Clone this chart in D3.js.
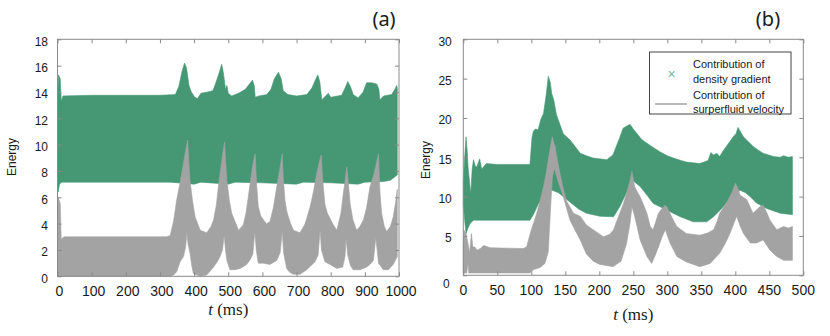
<!DOCTYPE html>
<html><head><meta charset="utf-8">
<script src="https://cdn.jsdelivr.net/npm/d3@7"></script>
<style>body{margin:0;background:#fff}svg{display:block}</style>
</head><body>
<svg id="c" width="830" height="336"></svg>
<script>
// ---------- DATA (envelopes of the dense oscillating signals, [t (ms), energy]) ----------
const aTicksX = [0,100,200,300,400,500,600,700,800,900,1000];
const aTicksY = [0,2,4,6,8,10,12,14,16,18];
const bTicksX = [0,50,100,150,200,250,300,350,400,450,500];
const bTicksY = [0,5,10,15,20,25,30];

const aGreenTop = [[0,13.5],[3,15.3],[8,15.0],[11,13.3],[16,13.7],[100,13.75],[200,13.75],[300,13.75],[345,13.8],[355,14.4],[365,15.6],[372,16.2],[378,15.8],[385,14.5],[392,14.0],[402,13.6],[410,13.5],[420,13.9],[440,14.0],[455,14.1],[465,14.8],[475,15.6],[481,16.1],[486,15.4],[492,14.2],[496,14.5],[500,13.9],[510,13.7],[530,13.9],[550,14.2],[562,14.6],[571,14.9],[576,14.5],[579,13.6],[590,13.7],[613,13.8],[625,14.2],[635,15.0],[647,15.5],[655,15.0],[661,14.1],[675,13.8],[700,13.7],[730,13.8],[745,14.3],[755,14.9],[762,15.3],[768,14.8],[774,13.4],[785,13.7],[793,13.9],[800,13.6],[832,13.75],[842,14.3],[850,14.8],[858,14.4],[866,13.8],[880,13.55],[895,14.0],[905,14.7],[920,14.7],[935,14.6],[941,14.2],[944,13.4],[955,13.7],[978,13.8],[988,14.2],[993,14.5],[995,14.3]];
const aGreenBot = [[0,7.5],[2,6.4],[6,7.0],[12,7.15],[330,7.15],[400,7.0],[420,7.15],[500,7.0],[520,7.15],[600,7.1],[700,7.0],[720,7.15],[800,7.1],[880,7.0],[900,7.15],[955,7.2],[975,7.3],[995,7.7]];
const aGrayTop = [[0,5.5],[2,6.0],[8,5.5],[11,2.7],[14,2.9],[20,3.0],[320,3.0],[330,3.1],[340,4.2],[349,5.8],[358,7.0],[367,8.3],[375,9.5],[381,10.35],[385,8.5],[388,7.3],[395,5.8],[403,4.5],[418,3.5],[437,3.3],[450,3.8],[457,4.3],[465,5.4],[471,6.8],[481,8.8],[489,10.2],[493,8.5],[496,7.3],[503,5.8],[510,4.8],[530,3.5],[544,3.9],[552,4.8],[559,6.1],[567,7.6],[574,8.8],[579,9.3],[583,7.0],[588,5.3],[595,4.6],[603,4.3],[612,4.0],[622,4.15],[632,5.2],[642,6.8],[652,8.3],[658,9.3],[661,7.5],[666,5.8],[671,5.0],[676,4.5],[683,4.0],[691,3.5],[710,3.3],[725,4.0],[740,5.3],[750,6.5],[759,7.8],[766,8.6],[772,9.2],[776,7.5],[783,5.5],[790,4.8],[798,4.4],[808,3.9],[818,3.5],[830,4.8],[837,6.3],[843,7.4],[847,8.3],[852,7.0],[857,5.5],[865,4.3],[876,3.5],[886,3.8],[896,4.3],[905,5.2],[915,6.8],[925,7.6],[933,8.5],[940,9.3],[944,6.5],[949,4.8],[957,3.8],[964,3.4],[975,3.8],[983,4.5],[990,5.6],[995,6.6]];
const aGrayBot = [[0,0],[330,0],[340,0.1],[349,0.35],[359,1.1],[369,1.5],[375,2.2],[379,3.3],[382,2.5],[388,1.75],[393,0.8],[398,0.2],[418,0.0],[437,0.1],[457,0.7],[470,1.2],[476,1.5],[483,2.0],[488,3.1],[492,2.0],[496,1.2],[505,0.5],[520,0.5],[535,0.6],[554,0.9],[565,1.3],[572,1.7],[578,3.4],[582,2.0],[588,1.0],[603,1.0],[622,0.9],[642,1.2],[652,1.8],[658,3.4],[662,1.8],[671,0.6],[680,0.3],[691,0.15],[710,0.15],[730,0.5],[754,1.1],[763,1.6],[769,3.5],[773,2.0],[783,1.1],[798,0.9],[818,0.6],[835,0.7],[842,1.5],[845,2.9],[850,1.6],[858,0.8],[866,0.5],[886,0.5],[905,0.7],[915,0.9],[925,1.2],[932,2.9],[936,2.0],[940,1.0],[954,0.5],[969,0.5],[983,0.9],[995,1.5]];

const bGreenTop = [[0,12],[2,15],[4,17.6],[6,15.5],[7,13.8],[9,12.0],[11,10.4],[13,13.5],[15,14.7],[18,13.8],[20,13.8],[24,14.8],[27,13.5],[34,14.2],[50,14.1],[98,14.1],[101,17.5],[103,18.3],[106,18.6],[110,18.5],[114,19.8],[118,20.6],[122,23],[125,25.3],[128,24.5],[130,23.1],[133,22.3],[137,20.4],[142,19.2],[147,18.0],[157,17.2],[165,16.3],[172,15.5],[181,15.2],[191,14.9],[211,14.7],[220,15.3],[225,16.4],[230,17.5],[235,18.7],[245,19.2],[250,18.6],[255,18.05],[262,17.3],[270,16.8],[280,16.2],[289,15.7],[300,15.2],[309,14.9],[320,14.6],[328,14.4],[348,14.2],[360,14.6],[364,15.6],[368,15.3],[373,15.5],[377,15.1],[382,15.8],[387,16.4],[392,17.0],[397,17.6],[401,18.0],[404,18.8],[408,18.2],[412,17.6],[420,16.9],[426,16.4],[434,15.9],[441,15.5],[456,15.1],[466,15.0],[471,15.2],[478,15.0],[484,15.1]];
const bGreenBot = [[0,9],[2,7],[4,5.3],[7,6.0],[10,6.6],[15,7.0],[98,7.0],[103,7.7],[110,9],[125,11],[140,10.5],[150,9.8],[157,9.3],[170,8.4],[181,7.9],[201,7.5],[221,7.45],[230,8.7],[240,10.5],[250,12],[260,11.3],[270,10.2],[279,9.15],[299,8.3],[319,7.45],[338,6.8],[358,6.8],[368,7.45],[378,8.3],[387,9.2],[397,10.3],[407,10.8],[415,10.5],[422,10.0],[431,9.2],[446,8.5],[466,7.9],[484,7.7]];
const bGrayTop = [[0,4],[1,5.75],[4,5.3],[7,4.0],[9,2.8],[12,5.3],[14,3.6],[17,3.6],[20,3.2],[25,3.4],[30,3.8],[40,3.5],[88,3.4],[93,3.6],[100,5.8],[104,6.8],[108,7.9],[113,9.5],[118,11.3],[122,13.0],[125,14.7],[128,16.3],[131,17.6],[133,16.8],[135,16.4],[138,14.8],[142,13.0],[147,11.0],[152,9.4],[162,7.9],[172,7.5],[181,6.4],[191,5.8],[206,4.9],[215,5.2],[221,5.8],[230,7.9],[235,9.0],[240,10.4],[245,12],[248,13.2],[252,11.3],[256,10.6],[260,10.0],[265,9.0],[270,7.9],[275,6.2],[279,5.8],[283,6.8],[287,7.9],[292,8.5],[297,8.9],[300,8.6],[304,7.9],[309,7.0],[314,6.2],[328,5.3],[348,5.1],[360,5.4],[368,5.8],[373,6.8],[377,7.9],[387,9.2],[395,10.5],[400,11.7],[404,11.0],[407,10.2],[417,9.6],[426,7.9],[431,8.3],[436,8.7],[441,8.9],[446,8.0],[451,7.0],[461,5.8],[471,6.2],[478,6.0],[484,6.2]];
const bGrayBot = [[0,0.3],[5,0.3],[7,1.5],[8,0.3],[93,0.3],[98,0.3],[103,0.7],[113,1.0],[120,1.5],[125,3.0],[128,8.0],[131,12.5],[134,13.6],[140,11.8],[147,10.0],[152,8.5],[157,7.0],[164,5.8],[172,4.5],[181,2.7],[191,1.8],[200,1.4],[220,1.1],[232,1.8],[240,4.0],[245,6.5],[248,8.7],[252,7.5],[256,6.0],[260,4.5],[270,2.4],[277,1.5],[282,2.5],[287,3.6],[292,4.8],[297,5.8],[304,4.1],[314,2.4],[328,1.7],[348,1.1],[363,1.5],[377,2.8],[385,4.0],[392,5.3],[402,7.5],[407,6.3],[412,5.3],[422,4.1],[431,4.1],[441,4.5],[451,3.2],[461,2.4],[471,1.9],[484,1.9]];

const legendLabels = [["Contribution of","density gradient"],["Contribution of","surperfluid velocity"]];

// ---------- STYLE ----------
const GREEN = "#469875", GRAY = "#a3a3a3", FRAME = "#8a8a8a", TXT = "#1a1a1a";
const SANS = "'Liberation Sans', Arial, sans-serif";

const svg = d3.select("#c");

function panel(cfg){
  const {x0,x1,y0,y1,xDom,yDom,xt,yt,greenTop,greenBot,grayTop,grayBot,yPad,title,titleX,energyX,energyY,xLabelY,tLabelY} = cfg;
  const x = d3.scaleLinear().domain(xDom).range([x0,x1]);
  const y = d3.scaleLinear().domain(yDom).range([y1,y0]);
  const g = svg.append("g");
  const line = d3.line().x(d=>x(d[0])).y(d=>y(d[1]));
  const band = (top,bot,col)=>{
    const pts = top.concat(bot.slice().reverse());
    g.append("path").attr("d", line(pts)+"Z").attr("fill",col).attr("stroke",col).attr("stroke-width",0.6);
  };
  band(greenTop,greenBot,GREEN);
  band(grayTop,grayBot,GRAY);

  // axes (ticks inside on all sides)
  const ax = (gen, tr)=>{
    const a = g.append("g").attr("transform",tr).call(gen);
    a.select(".domain").remove();
    a.selectAll("line").attr("stroke",FRAME);
    return a;
  };
  ax(d3.axisBottom(x).tickValues(xt).tickSizeInner(-4).tickSizeOuter(0).tickFormat(""),`translate(0,${y1})`);
  ax(d3.axisTop(x).tickValues(xt).tickSizeInner(-4).tickSizeOuter(0).tickFormat(""),`translate(0,${y0})`);
  ax(d3.axisRight(y).tickValues(yt).tickSizeInner(-4).tickSizeOuter(0).tickFormat(""),`translate(${x1},0)`);
  const la = ax(d3.axisLeft(y).tickValues(yt).tickSizeInner(-4).tickSizeOuter(0).tickPadding(yPad),`translate(${x0},0)`);
  la.selectAll("text").attr("fill",TXT).style("font-family",SANS).style("font-size","12px").attr("dy","0.5em");
  if (cfg.zeroShift) la.selectAll("text").filter(d=>d===0).attr("dy","1.05em").attr("x",-yPad-2);

  g.append("rect").attr("x",x0).attr("y",y0).attr("width",x1-x0).attr("height",y1-y0)
    .attr("fill","none").attr("stroke",FRAME).attr("stroke-width",1);

  // x tick labels
  g.selectAll(".xl").data(xt).enter().append("text")
    .attr("x",d=>x(d)+cfg.xLabDx).attr("y",xLabelY).attr("text-anchor","middle")
    .attr("fill",TXT).style("font-family",SANS).style("font-size","14px").text(d=>d);

  // axis titles
  const tl = g.append("text").attr("x",(x0+x1)/2).attr("y",tLabelY).attr("text-anchor","middle")
    .attr("fill",TXT).style("font-family","'Liberation Serif','DejaVu Serif',serif").style("font-size","17px");
  tl.append("tspan").style("font-style","italic").text("t");
  tl.append("tspan").text(" (ms)");
  g.append("text").attr("transform",`translate(${energyX},${energyY}) rotate(-90)`).attr("text-anchor","middle")
    .attr("dy","0.35em").attr("fill",TXT).style("font-family",SANS).style("font-size","12px").text("Energy");
  g.append("text").attr("x",titleX).attr("y",26).attr("text-anchor","middle").attr("fill",TXT)
    .style("font-family","'Noto Sans',sans-serif").style("font-size","20px").text(title);
  return {x,y,g};
}

panel({x0:57.5,x1:399,y0:39.3,y1:276.3,xDom:[0,1000],yDom:[0,18],xt:aTicksX,yt:aTicksY,
  greenTop:aGreenTop,greenBot:aGreenBot,grayTop:aGrayTop,grayBot:aGrayBot,yPad:9.5,
  title:"(a)",titleX:384,energyX:12,energyY:157,xLabelY:296,tLabelY:315,xLabDx:2});

const pb = panel({x0:463.3,x1:803.3,y0:39.3,y1:275.3,xDom:[0,500],yDom:[0,30],xt:bTicksX,yt:bTicksY,
  greenTop:bGreenTop,greenBot:bGreenBot,grayTop:bGrayTop,grayBot:bGrayBot,yPad:11.5,zeroShift:true,
  title:"(b)",titleX:768,energyX:426,energyY:160,xLabelY:295,tLabelY:320,xLabDx:0});

// legend
const lg = svg.append("g");
lg.append("rect").attr("x",649.5).attr("y",52).attr("width",141.5).attr("height",62)
  .attr("fill","#fff").attr("stroke","#444").attr("stroke-width",1);
const rowsY = [[67.5,82.5],[99,113]];
legendLabels.forEach((pair,i)=>{
  pair.forEach((s,j)=>{
    lg.append("text").attr("x",693).attr("y",rowsY[i][j]).attr("fill",TXT)
      .style("font-family",SANS).style("font-size","11px").text(s);
  });
});
lg.append("text").attr("x",671.7).attr("y",74).attr("text-anchor","middle").attr("dy","0.35em")
  .attr("fill","#6dbb98").style("font-family",SANS).style("font-size","14px").text("×");
lg.append("line").attr("x1",655).attr("x2",687).attr("y1",104).attr("y2",104)
  .attr("stroke",GRAY).attr("stroke-width",1.5);
</script>
</body></html>
